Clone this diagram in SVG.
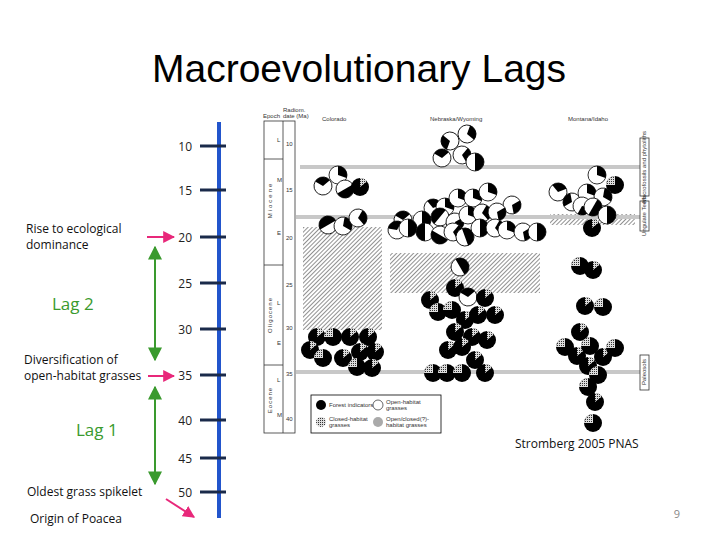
<svg xmlns="http://www.w3.org/2000/svg" xmlns:xlink="http://www.w3.org/1999/xlink" width="720" height="540" viewBox="0 0 720 540">
<style>
.t{font-family:"Open Sans","DejaVu Sans",sans-serif;font-size:12px;fill:#111}
.lag{font-family:"Open Sans","DejaVu Sans",sans-serif;font-size:17px;fill:#3a9a2e}
.n{font-family:"Open Sans","DejaVu Sans",sans-serif;font-size:12px;fill:#222}
.s{font-family:"Liberation Sans",Arial,sans-serif;font-size:6px;fill:#333}
.tk{stroke:#1a2a4a;stroke-width:3}
.g{stroke:#3a9a2e;stroke-width:2;fill:none}
.p{stroke:#e8287a;stroke-width:2;fill:none}
.gl{stroke:#c8c8c8;stroke-width:4}
.bx{fill:none;stroke:#333;stroke-width:0.8}
</style>
<defs>
<marker id="ag" viewBox="0 0 10 10" refX="9" refY="5" markerWidth="7" markerHeight="7" orient="auto-start-reverse"><path d="M0,0L10,5L0,10z" fill="#3a9a2e"/></marker>
<marker id="ap" viewBox="0 0 10 10" refX="9" refY="5" markerWidth="6" markerHeight="6" orient="auto"><path d="M0,0L10,5L0,10z" fill="#e8287a"/></marker>
<pattern id="h" width="3" height="3" patternUnits="userSpaceOnUse" patternTransform="rotate(45)"><rect width="3" height="3" fill="#fff"/><line x1="0" y1="0" x2="0" y2="3" stroke="#555" stroke-width="1.3"/></pattern>
<pattern id="d" width="2" height="2" patternUnits="userSpaceOnUse"><rect width="2" height="2" fill="#ddd"/><rect width="1" height="1" fill="#333"/></pattern>
<g id="o"><circle r="9" fill="#fff" stroke="#000" stroke-width="0.8"/><path d="M0,0L0,-9A9,9 0 0 1 8.5,3z" fill="#000"/></g>
<g id="o2"><circle r="9" fill="#fff" stroke="#000" stroke-width="0.8"/><path d="M0,0L0,-9A9,9 0 0 1 0,9z" fill="#000"/></g>
<g id="f"><circle r="9" fill="#000"/><path d="M0,0L0,-9A9,9 0 0 1 7,-5.6z" fill="url(#d)"/></g>
<g id="f2"><circle r="9" fill="#000"/><path d="M0,0L0,-9A9,9 0 0 0 -9,0z" fill="url(#d)"/></g>
</defs>
<rect width="720" height="540" fill="#fff"/>
<text x="359" y="82" text-anchor="middle" font-family="Liberation Sans,Arial,sans-serif" font-size="39" fill="#000">Macroevolutionary Lags</text>

<g id="axis">
<line x1="219" y1="122" x2="219" y2="518" stroke="#2255cc" stroke-width="4"/>
<g class="tk"><line x1="200" y1="146" x2="226" y2="146"/><line x1="200" y1="190" x2="226" y2="190"/><line x1="200" y1="237" x2="226" y2="237"/><line x1="200" y1="283" x2="226" y2="283"/><line x1="200" y1="329" x2="226" y2="329"/><line x1="200" y1="375" x2="226" y2="375"/><line x1="200" y1="420" x2="226" y2="420"/><line x1="200" y1="458" x2="226" y2="458"/><line x1="200" y1="492" x2="226" y2="492"/></g>
<g class="n" text-anchor="end"><text x="192" y="151">10</text><text x="192" y="195">15</text><text x="192" y="242">20</text><text x="192" y="288">25</text><text x="192" y="334">30</text><text x="192" y="380">35</text><text x="192" y="425">40</text><text x="192" y="463">45</text><text x="192" y="497">50</text></g>
</g>
<g id="labels">
<text class="t" x="26" y="233">Rise to ecological</text><text class="t" x="26" y="249">dominance</text>
<text class="lag" x="52" y="310">Lag 2</text>
<text class="t" x="24" y="364">Diversification of</text><text class="t" x="24" y="380">open-habitat grasses</text>
<text class="lag" x="76" y="436">Lag 1</text>
<text class="t" x="27" y="496">Oldest grass spikelet</text>
<text class="t" x="30" y="523">Origin of Poacea</text>
<text x="677" y="518" font-family="Open Sans,sans-serif" font-size="11" fill="#888" text-anchor="middle">9</text>
<text x="515" y="448" font-family="Open Sans,sans-serif" font-size="12" fill="#111">Stromberg 2005 PNAS</text>
</g>
<g id="connectors">
<line class="g" x1="155" y1="247" x2="155" y2="360" marker-start="url(#ag)" marker-end="url(#ag)"/>
<line class="g" x1="155" y1="387" x2="155" y2="484" marker-start="url(#ag)" marker-end="url(#ag)"/>
<line class="p" x1="147" y1="237" x2="174" y2="237" marker-end="url(#ap)"/>
<line class="p" x1="148" y1="376" x2="174" y2="376" marker-end="url(#ap)"/>
<line class="p" x1="166" y1="499" x2="194" y2="517" marker-end="url(#ap)"/>
</g>

<g id="figure">
<rect x="303" y="227" width="79" height="103" fill="url(#h)"/>
<rect x="390" y="253" width="150" height="40" fill="url(#h)"/>
<rect x="550" y="214" width="85" height="11" fill="url(#h)"/>
<line class="gl" x1="300" y1="167" x2="640" y2="167"/>
<line class="gl" x1="296" y1="217" x2="640" y2="217"/>
<line class="gl" x1="296" y1="372" x2="640" y2="372"/>
<rect class="bx" x="264" y="121" width="31" height="312"/>
<line class="bx" x1="283" y1="121" x2="283" y2="433"/>
<line class="bx" x1="264" y1="159" x2="283" y2="159"/>
<line class="bx" x1="264" y1="265" x2="283" y2="265"/>
<line class="bx" x1="264" y1="365" x2="283" y2="365"/>
<text class="s" x="263" y="118">Epoch</text><text class="s" x="283" y="112">Radiom.</text><text class="s" x="283" y="118">date (Ma)</text>
<text class="s" transform="translate(272,200) rotate(-90)" text-anchor="middle" font-size="8" letter-spacing="2">Miocene</text>
<text class="s" transform="translate(272,315) rotate(-90)" text-anchor="middle" font-size="8" letter-spacing="1">Oligocene</text>
<text class="s" transform="translate(272,400) rotate(-90)" text-anchor="middle" font-size="8" letter-spacing="1">Eocene</text>
<g class="s"><text x="286" y="146">10</text><text x="286" y="192">15</text><text x="286" y="240">20</text><text x="286" y="287">25</text><text x="286" y="330">30</text><text x="286" y="376">35</text><text x="286" y="421">40</text><text x="277" y="142">L</text><text x="277" y="182">M</text><text x="277" y="235">E</text><text x="277" y="305">L</text><text x="277" y="345">E</text><text x="277" y="382">L</text><text x="277" y="417">M</text></g>
<g class="s" font-size="7"><text x="322" y="121">Colorado</text><text x="430" y="121">Nebraska/Wyoming</text><text x="568" y="121">Montana/Idaho</text></g>
<rect class="bx" x="640" y="138" width="9" height="58"/><rect class="bx" x="640" y="201" width="9" height="30"/><rect class="bx" x="640" y="355" width="9" height="35"/>
<text class="s" font-size="4" transform="translate(646,167) rotate(-90)" text-anchor="middle">Macrofossils and phytoliths</text>
<text class="s" font-size="4" transform="translate(646,216) rotate(-90)" text-anchor="middle">Ungulate Teeth</text>
<text class="s" font-size="4" transform="translate(646,372) rotate(-90)" text-anchor="middle">Paleosols</text>
<rect x="311" y="395" width="130" height="38" fill="#fff" stroke="#000" stroke-width="0.8"/>
<circle cx="321" cy="405" r="5" fill="#000"/><text class="s" x="329" y="407">Forest indicators</text>
<circle cx="378" cy="405" r="5" fill="#fff" stroke="#000" stroke-width="0.6"/><text class="s" x="386" y="404">Open-habitat</text><text class="s" x="386" y="410">grasses</text>
<circle cx="321" cy="422" r="5" fill="url(#d)"/><text class="s" x="329" y="421">Closed-habitat</text><text class="s" x="329" y="427">grasses</text>
<circle cx="378" cy="422" r="5" fill="#aaa"/><text class="s" x="386" y="421">Open/closed(?)-</text><text class="s" x="386" y="427">habitat grasses</text>
<g id="pies">
<use href="#o" transform="translate(450,141) rotate(200)"/><use href="#o" transform="translate(467,134) rotate(20)"/><use href="#o" transform="translate(442,158) rotate(300)"/><use href="#o" transform="translate(462,155) rotate(40)"/><use href="#o2" transform="translate(475,162) rotate(0)"/>
<use href="#o" transform="translate(323,186) rotate(300)"/><use href="#o" transform="translate(338,175)"/><use href="#o2" transform="translate(345,189) rotate(60)"/><use href="#f" transform="translate(360,187)"/>
<use href="#o2" transform="translate(328,225) rotate(240)"/><use href="#o" transform="translate(343,226) rotate(10)"/><use href="#o" transform="translate(358,218) rotate(30)"/>
<use href="#o" transform="translate(433,208) rotate(320)"/><use href="#o" transform="translate(445,207)"/><use href="#o" transform="translate(458,198)"/><use href="#o" transform="translate(473,198)"/><use href="#o" transform="translate(488,192)"/><use href="#o" transform="translate(512,205) rotate(60)"/>
<use href="#o" transform="translate(403,220) rotate(300)"/><use href="#o2" transform="translate(422,220)"/><use href="#o2" transform="translate(440,217) rotate(220)"/><use href="#o" transform="translate(455,222) rotate(60)"/><use href="#o" transform="translate(468,215)"/><use href="#o" transform="translate(482,213) rotate(30)"/><use href="#o" transform="translate(497,212) rotate(60)"/>
<use href="#o" transform="translate(397,230) rotate(280)"/><use href="#o2" transform="translate(408,228)"/><use href="#o2" transform="translate(425,232) rotate(180)"/><use href="#o2" transform="translate(440,235) rotate(120)"/><use href="#o" transform="translate(453,232) rotate(40)"/><use href="#o2" transform="translate(465,237) rotate(-20)"/><use href="#o2" transform="translate(480,228)"/><use href="#o" transform="translate(495,228) rotate(30)"/><use href="#o" transform="translate(507,230)"/><use href="#o" transform="translate(523,232) rotate(60)"/><use href="#o2" transform="translate(537,232)"/>
<use href="#o2" transform="translate(460,267) rotate(-30)"/>
<use href="#o" transform="translate(597,175)"/><use href="#f2" transform="translate(615,185)"/><use href="#o" transform="translate(558,192) rotate(320)"/><use href="#o" transform="translate(572,202) rotate(240)"/><use href="#o" transform="translate(587,193)"/><use href="#o" transform="translate(603,197) rotate(10)"/><use href="#o" transform="translate(582,206) rotate(100)"/><use href="#o2" transform="translate(593,207) rotate(30)"/><use href="#o2" transform="translate(607,215)"/><use href="#f" transform="translate(592,228)"/>
<use href="#f2" transform="translate(580,266)"/><use href="#f" transform="translate(593,270)"/><use href="#f" transform="translate(585,306)"/><use href="#f2" transform="translate(603,307)"/>
<use href="#f" transform="translate(580,332)"/><use href="#f2" transform="translate(565,347)"/><use href="#f" transform="translate(577,356)"/><use href="#f2" transform="translate(590,346)"/><use href="#f" transform="translate(603,357)"/><use href="#f2" transform="translate(615,348)"/><use href="#f" transform="translate(588,366)"/><use href="#f2" transform="translate(598,375)"/><use href="#f2" transform="translate(588,387)"/><use href="#f" transform="translate(595,402)"/><use href="#f2" transform="translate(593,423)"/>
<use href="#f" transform="translate(430,300)"/><use href="#f" transform="translate(455,288)"/><use href="#o" transform="translate(468,297) rotate(300)"/><use href="#f" transform="translate(485,298)"/><use href="#f2" transform="translate(438,312)"/><use href="#f2" transform="translate(452,310)"/><use href="#f" transform="translate(465,320)"/><use href="#f" transform="translate(478,315)"/><use href="#f" transform="translate(495,315)"/><use href="#f" transform="translate(455,332)"/><use href="#f" transform="translate(472,337)"/><use href="#f" transform="translate(487,340)"/><use href="#f" transform="translate(448,350)"/><use href="#f" transform="translate(462,347)"/><use href="#f" transform="translate(475,360)"/><use href="#f2" transform="translate(433,373)"/><use href="#f2" transform="translate(447,373)"/><use href="#f2" transform="translate(462,373)"/><use href="#f" transform="translate(485,373)"/>
<use href="#f" transform="translate(317,337)"/><use href="#f2" transform="translate(333,337)"/><use href="#f" transform="translate(350,337)"/><use href="#f" transform="translate(368,337)"/><use href="#f" transform="translate(310,350)"/><use href="#f2" transform="translate(323,358)"/><use href="#f" transform="translate(343,358)"/><use href="#f" transform="translate(360,352)"/><use href="#f" transform="translate(375,352)"/><use href="#f2" transform="translate(357,367)"/><use href="#f" transform="translate(372,368)"/>
</g>
</g>
</svg>
